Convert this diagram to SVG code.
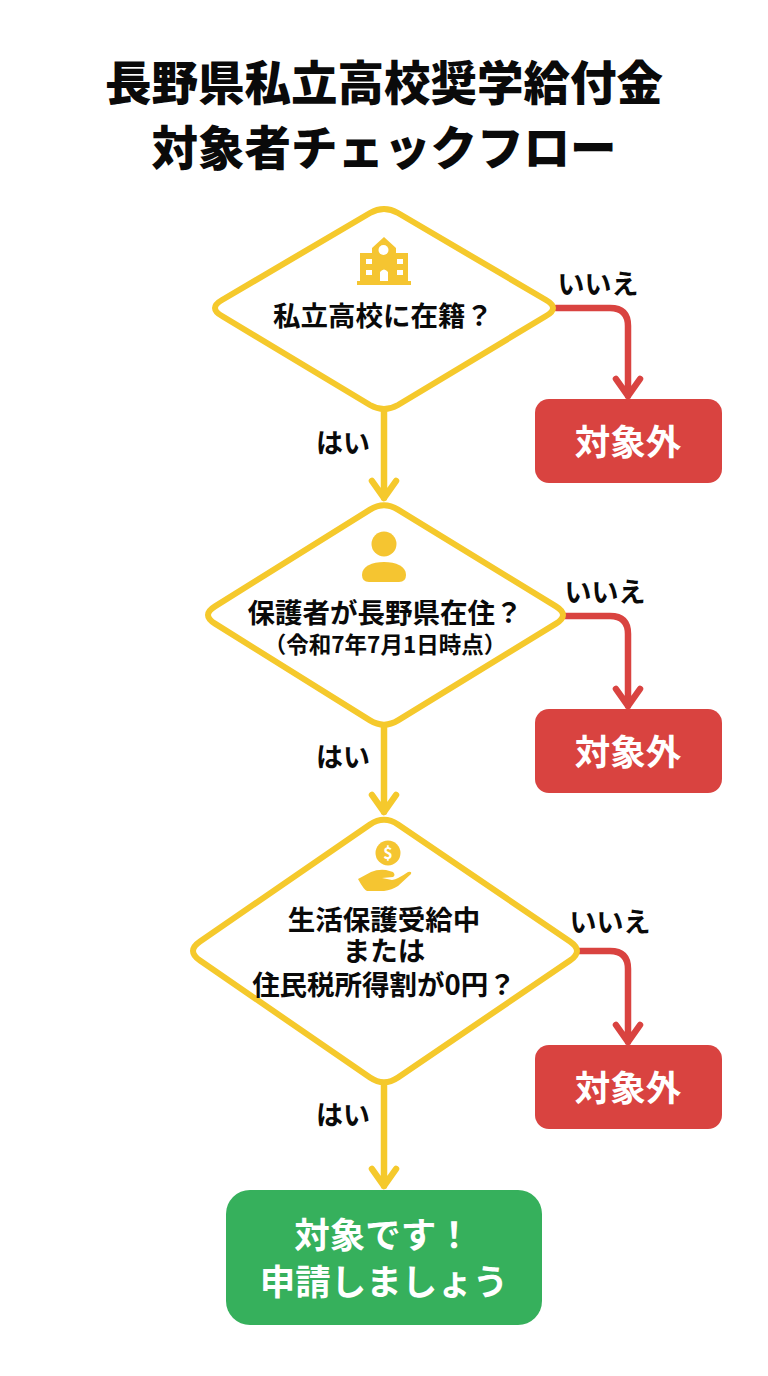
<svg xmlns="http://www.w3.org/2000/svg" width="768" height="1376" viewBox="0 0 768 1376">
<style>
text{font-family:"Noto Sans CJK JP","Noto Sans",sans-serif;font-weight:700;text-anchor:middle;fill:#0a0a0a}
.t{font-size:46.500px;font-weight:900}
.q{font-size:27.500px}
.s{font-size:22.500px}
.l{font-size:27px}
.w{fill:#fff;font-size:35.500px}
.d{fill:#fff;stroke:#f5c92c;stroke-width:6;stroke-linejoin:round}
.y{fill:none;stroke:#f5c92c;stroke-width:6.500;stroke-linecap:round;stroke-linejoin:round}
.r{fill:none;stroke:#d94340;stroke-width:6.500;stroke-linecap:round;stroke-linejoin:round}
.ic{fill:#f5c531}
</style>
<rect width="768" height="1376" fill="#fff"/>
<g id="title">
<text class="t" x="384" y="100">長野県私立高校奨学給付金</text>
<text class="t" x="384" y="165">対象者チェックフロー</text>
</g>
<g id="connectors">
<path class="y" d="M384 410V498M372 481L384 498L396 481"/>
<path class="y" d="M384 726V812M372 795L384 812L396 795"/>
<path class="y" d="M384 1084V1186M372 1169L384 1186L396 1169"/>
<path class="r" d="M556 308H610Q628 308 628 326V396M616 379L628 396L640 379"/>
<path class="r" d="M564 616H610Q628 616 628 634V706M616 689L628 706L640 689"/>
<path class="r" d="M578 951H610Q628 951 628 969V1042M616 1025L628 1042L640 1025"/>
<text class="l" x="343" y="453">はい</text>
<text class="l" x="343" y="767">はい</text>
<text class="l" x="343" y="1125">はい</text>
<text class="l" x="598" y="294">いいえ</text>
<text class="l" x="605" y="602">いいえ</text>
<text class="l" x="610" y="932">いいえ</text>
</g>
<g id="q1">
<path class="d" d="M370 213Q384 205 398 213L546 300Q560 308 546 316L398 405Q384 413 370 405L222 316Q208 308 222 300Z"/>
<path class="ic" d="M384 237L396 248V253H408V281H411V285H357V281H360V253H372V248Z"/>
<circle cx="383.500" cy="250" r="5" fill="#fff"/>
<g fill="#fff"><rect x="366" y="259" width="6" height="5"/><rect x="397" y="259" width="6" height="5"/><rect x="366" y="270" width="6" height="5"/><rect x="397" y="270" width="6" height="5"/><path d="M380 281V272Q384 267 388 272V281Z"/></g>
<text class="q" x="383" y="326">私立高校に在籍？</text>
</g>
<g id="q2">
<path class="d" d="M370 509.600Q384 501 398 509.600L556 606.400Q570 615 556 623.600L398 720.400Q384 729 370 720.400L215 623.600Q201 615 215 606.400Z"/>
<circle class="ic" cx="384" cy="544" r="12.500"/>
<path class="ic" d="M362 575C362 566 372 562 384 562S406 566 406 575Q406 582 399 582H369Q362 582 362 575Z"/>
<text class="q" x="385" y="623">保護者が長野県在住？</text>
<text class="s" x="385" y="653">（令和7年7月1日時点）</text>
</g>
<g id="q3">
<path class="d" d="M370 824.500Q384 815 398 824.500L570 941.500Q584 951 570 960.500L398 1077.500Q384 1087 370 1077.500L200 960.500Q186 951 200 941.500Z"/>
<circle class="ic" cx="388" cy="853" r="12.500"/>
<text x="388" y="859" style="font-size:16px;fill:#fff">$</text>
<path class="ic" d="M358 879L371 872Q378 869 386 870L393 872Q396 875 393 877L382 878L392 880Q398 879 408 872Q412 871 411 874L398 886Q392 890 384 891H367Q364 890 358 879Z"/>
<text class="q" x="384" y="930">生活保護受給中</text>
<text class="q" x="384" y="961">または</text>
<text class="q" x="384" y="995">住民税所得割が0円？</text>
</g>
<g id="no1"><rect x="535" y="399" width="187" height="84" rx="14" fill="#d94340"/><text class="w" x="628" y="455">対象外</text></g>
<g id="no2"><rect x="535" y="709" width="187" height="84" rx="14" fill="#d94340"/><text class="w" x="628" y="765">対象外</text></g>
<g id="no3"><rect x="535" y="1045" width="187" height="84" rx="14" fill="#d94340"/><text class="w" x="628" y="1101">対象外</text></g>
<g id="yes"><rect x="226" y="1190" width="316" height="135" rx="24" fill="#36b05c"/>
<text class="w" x="383" y="1248">対象です！</text>
<text class="w" x="384" y="1295">申請しましょう</text></g>
</svg>
